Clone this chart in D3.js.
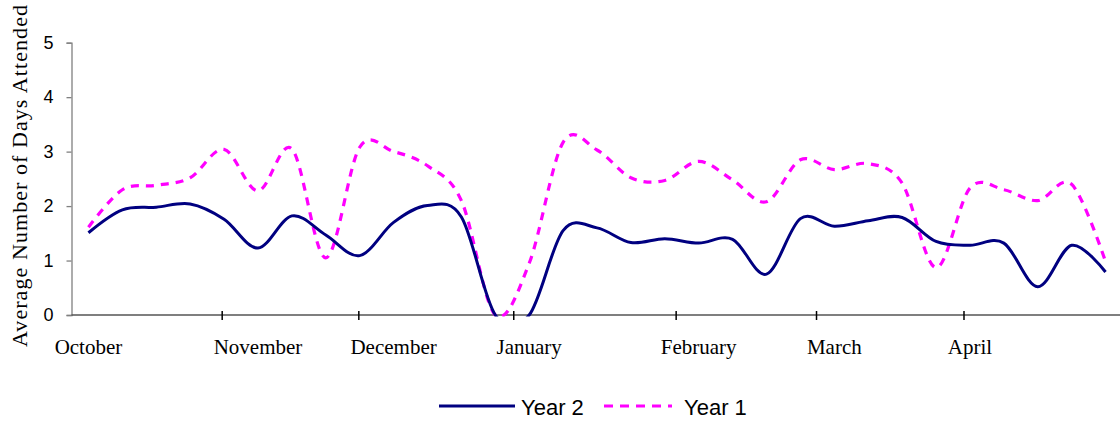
<!DOCTYPE html>
<html>
<head>
<meta charset="utf-8">
<script src="https://cdn.jsdelivr.net/npm/d3@7/dist/d3.min.js"></script>
<style>
  html, body { margin: 0; padding: 0; background: #fff; }
  svg { display: block; }
</style>
</head>
<body>
<svg id="chart" width="1120" height="423"></svg>
<script>
// Weekly categories; only the first week of each month carries a label
const weekLabels = [
  "October", "", "", "", "", "November", "", "", "", "December", "", "", "",
  "January", "", "", "", "", "February", "", "", "", "March", "", "", "",
  "April", "", "", "", ""
];

// Average number of days attended per week
const year2 = [1.51, 1.93, 1.98, 2.04, 1.76, 1.23, 1.82, 1.47, 1.09, 1.70, 2.01, 1.80, 0, 0,
  1.55, 1.60, 1.33, 1.40, 1.32, 1.39, 0.75, 1.77, 1.63, 1.73, 1.79, 1.35, 1.28, 1.32, 0.52, 1.28, 0.79];
const year1 = [1.61, 2.30, 2.38, 2.52, 3.04, 2.28, 3.05, 1.05, 3.08, 3.00, 2.74, 2.10, 0, 0.95,
  3.17, 3.03, 2.52, 2.47, 2.82, 2.48, 2.08, 2.85, 2.67, 2.78, 2.42, 0.87, 2.33, 2.30, 2.10, 2.40, 0.98];

// Month boundaries along the week axis (in weeks from the start)
const monthBoundaries = [4.43, 8.46, 13.03, 17.82, 21.96, 26.31];

const yTicks = [0, 1, 2, 3, 4, 5];

const seriesNames = ["Year 2", "Year 1"];

const svg = d3.select("#chart");

const x = d3.scaleLinear().domain([0, weekLabels.length]).range([71.5, 1122.5]);
const y = d3.scaleLinear().domain([0, 5]).range([315, 42.7]);

// Clip the smoothed lines to the plotting area
svg.append("defs").append("clipPath").attr("id", "plot-clip")
  .append("rect")
  .attr("x", x.range()[0]).attr("y", y(5) - 2)
  .attr("width", 1120 - x.range()[0]).attr("height", y(0) - y(5) + 3.5);

// Y axis
const yAxis = svg.append("g")
  .attr("transform", `translate(${x.range()[0]},0)`)
  .call(d3.axisLeft(y).tickValues(yTicks).tickFormat(d3.format("d")).tickSize(5).tickPadding(13));
yAxis.select(".domain").attr("stroke", "#808080").attr("stroke-width", 1.3);
yAxis.selectAll(".tick line").attr("stroke", "#808080").attr("stroke-width", 1.3);
yAxis.selectAll(".tick text")
  .attr("font-family", "'Liberation Sans', Arial, sans-serif")
  .attr("font-size", 18).attr("fill", "#000");

// X axis line with month boundary marks
const xAxis = svg.append("g")
  .attr("transform", `translate(0,${y(0)})`)
  .call(d3.axisBottom(x).tickValues(monthBoundaries).tickFormat("").tickSizeOuter(0).tickSizeInner(5));
xAxis.select(".domain").attr("d", `M${x.range()[0]},0H1120`).attr("stroke", "#555").attr("stroke-width", 1.5);
xAxis.selectAll(".tick line").attr("y1", -4).attr("y2", 5).attr("stroke", "#000").attr("stroke-width", 1.5);

// Month labels centred on their week
svg.append("g").selectAll("text")
  .data(weekLabels.map((label, i) => ({ label, i })).filter(d => d.label))
  .join("text")
  .attr("x", d => x(d.i + 0.5))
  .attr("y", 354)
  .attr("text-anchor", "middle")
  .attr("font-family", "'Liberation Serif', 'Times New Roman', serif")
  .attr("font-size", 21)
  .text(d => d.label);

// Y axis title
svg.append("text")
  .attr("transform", `translate(27,${(5 + 347) / 2}) rotate(-90)`)
  .attr("text-anchor", "middle")
  .attr("font-family", "'Liberation Serif', 'Times New Roman', serif")
  .attr("font-size", 22)
  .attr("textLength", 342)
  .attr("lengthAdjust", "spacing")
  .text("Average Number of Days Attended");

const line = d3.line()
  .x((d, i) => x(i + 0.5))
  .y(d => y(d))
  .curve(d3.curveCardinal.tension(0));

const plot = svg.append("g").attr("clip-path", "url(#plot-clip)");

const styles = [
  { color: "#000080", dash: null },
  { color: "#FF00FF", dash: "8,7" }
];

plot.append("path")
  .datum(year1)
  .attr("d", line)
  .attr("fill", "none")
  .attr("stroke", styles[1].color)
  .attr("stroke-width", 3.2)
  .attr("stroke-dasharray", styles[1].dash);

plot.append("path")
  .datum(year2)
  .attr("d", line)
  .attr("fill", "none")
  .attr("stroke", styles[0].color)
  .attr("stroke-width", 3);

// Legend
const legend = svg.append("g").attr("transform", "translate(0,406)");
const legendItems = [
  { name: seriesNames[0], style: styles[0], x0: 439, x1: 515, tx: 521 },
  { name: seriesNames[1], style: styles[1], x0: 604, x1: 672, tx: 684 }
];
legendItems.forEach(item => {
  legend.append("line")
    .attr("x1", item.x0).attr("x2", item.x1)
    .attr("y1", 0).attr("y2", 0)
    .attr("stroke", item.style.color)
    .attr("stroke-width", 3)
    .attr("stroke-dasharray", item.style.dash ? "9,7" : null);
  legend.append("text")
    .attr("x", item.tx).attr("y", 8.5)
    .attr("font-family", "'Liberation Sans', Arial, sans-serif")
    .attr("font-size", 22)
    .text(item.name);
});
</script>
</body>
</html>
